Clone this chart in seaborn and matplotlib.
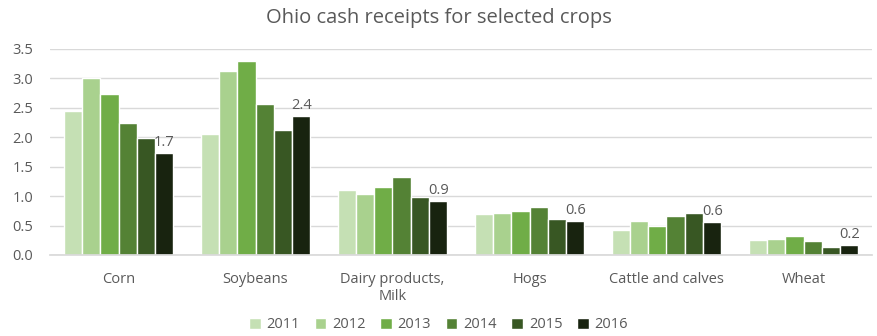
import matplotlib
matplotlib.use("Agg")
import matplotlib.pyplot as plt
import seaborn as sns
import pandas as pd

categories = ["Corn", "Soybeans", "Dairy products,\nMilk", "Hogs", "Cattle and calves", "Wheat"]
years = ["2011", "2012", "2013", "2014", "2015", "2016"]
v2011 = [2.45, 2.05, 1.10, 0.70, 0.42, 0.26]
v2012 = [3.00, 3.12, 1.03, 0.71, 0.57, 0.27]
v2013 = [2.73, 3.30, 1.15, 0.74, 0.49, 0.33]
v2014 = [2.25, 2.56, 1.33, 0.81, 0.67, 0.23]
v2015 = [1.98, 2.13, 0.98, 0.62, 0.71, 0.14]
v2016 = [1.74, 2.36, 0.92, 0.58, 0.56, 0.17]
colors = ["#C5E0B4", "#A9D18E", "#70AD47", "#548235", "#385723", "#18230F"]

series = [v2011, v2012, v2013, v2014, v2015, v2016]
rows = []
for y, vals in zip(years, series):
    for c, v in zip(categories, vals):
        rows.append({"category": c, "year": y, "value": v})
df = pd.DataFrame(rows)

sns.set_theme(style="white")
plt.rcParams["font.family"] = ["Open Sans", "DejaVu Sans"]
text_color = "#595959"
fs = 10.5

fig = plt.figure(figsize=(8.77, 3.36), dpi=100)
ax = fig.add_axes([50/877, 1-255/336, 822/877, 206/336])

sns.barplot(data=df, x="category", y="value", hue="year", palette=colors,
            order=categories, hue_order=years, width=0.8, ax=ax,
            edgecolor="white", linewidth=1, saturation=1, legend=True)

ax.set_ylim(0, 3.5)
ax.set_yticks([0, 0.5, 1.0, 1.5, 2.0, 2.5, 3.0, 3.5])
ax.set_yticklabels([f"{t:.1f}" for t in ax.get_yticks()])
ax.yaxis.grid(True, color="#D9D9D9", linewidth=1)
ax.set_axisbelow(True)
for s in ["top", "right", "left"]:
    ax.spines[s].set_visible(False)
ax.spines["bottom"].set_color("#D9D9D9")
ax.tick_params(axis="both", length=0, labelsize=fs, colors=text_color)
ax.tick_params(axis="x", pad=12)
ax.tick_params(axis="y", pad=12)
for lbl in ax.get_xticklabels():
    lbl.set_linespacing(1.25)
ax.set_xlabel("")
ax.set_ylabel("")

# Data labels on the 2016 series
last = ax.containers[-1]
ax.bar_label(last, labels=[f"{v:.1f}" for v in v2016], padding=2,
             fontsize=fs, color=text_color)

fig.text(0.5, 1-18/336, "Ohio cash receipts for selected crops", ha="center",
         va="center", fontsize=14.5, color=text_color)

handles, labels = ax.get_legend_handles_labels()
ax.legend_.remove()
fig.legend(handles, labels, loc="center", bbox_to_anchor=(0.5, 1-325/336),
           ncol=6, frameon=False, fontsize=fs, handlelength=0.8, handleheight=0.8,
           handletextpad=0.4, columnspacing=1.0, labelcolor=text_color)

fig.savefig("out.png", dpi=100)
